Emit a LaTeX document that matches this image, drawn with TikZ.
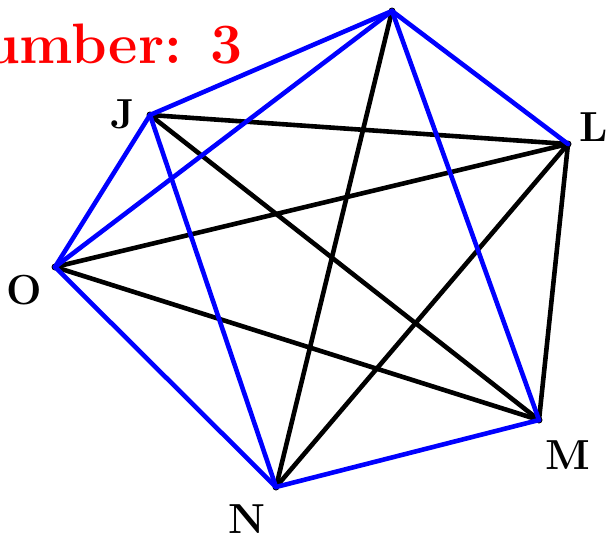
\documentclass[tikz,border=0pt]{standalone}
\begin{document}
\begin{tikzpicture}[x=1pt,y=-1pt,
  vtx/.style={circle,fill=black,inner sep=0pt,minimum size=7pt},
  lbl/.style={font=\fontsize{42}{44}\selectfont\bfseries,inner sep=0pt},
  bedge/.style={draw=black,line width=4.6pt},
  uedge/.style={draw=blue,line width=4.6pt,line cap=round}]
\useasboundingbox (0,0) rectangle (608,536);
\node[vtx] (K) at (392,11) {};
\node[vtx] (J) at (150,115) {};
\node[vtx] (L) at (568,144) {};
\node[vtx] (O) at (55,267) {};
\node[vtx] (M) at (539,420) {};
\node[vtx] (N) at (276,487) {};
\node[lbl] (lJ) at (123,114) {J};
\node[lbl] (lL) at (594,127) {L};
\node[lbl] (lO) at (24,290) {O};
\node[lbl] (lN) at (247,519) {N};
\node[lbl] (lM) at (568,455) {M};
\node[font=\fontsize{57}{60}\selectfont\bfseries,text=red,anchor=base east,inner sep=0pt] (title) at (243,63) {Number: 3};
\draw[bedge] (J.center) -- (L.center);
\draw[bedge] (J.center) -- (M.center);
\draw[bedge] (O.center) -- (L.center);
\draw[bedge] (O.center) -- (M.center);
\draw[bedge] (K.center) -- (N.center);
\draw[bedge] (L.center) -- (N.center);
\draw[bedge] (L.center) -- (M.center);
\draw[uedge] (J.center) -- (K.center);
\draw[uedge] (O.center) -- (K.center);
\draw[uedge] (O.center) -- (J.center);
\draw[uedge] (J.center) -- (N.center);
\draw[uedge] (K.center) -- (M.center);
\draw[uedge] (K.center) -- (L.center);
\draw[uedge] (O.center) -- (N.center);
\draw[uedge] (N.center) -- (M.center);
\end{tikzpicture}
\end{document}
